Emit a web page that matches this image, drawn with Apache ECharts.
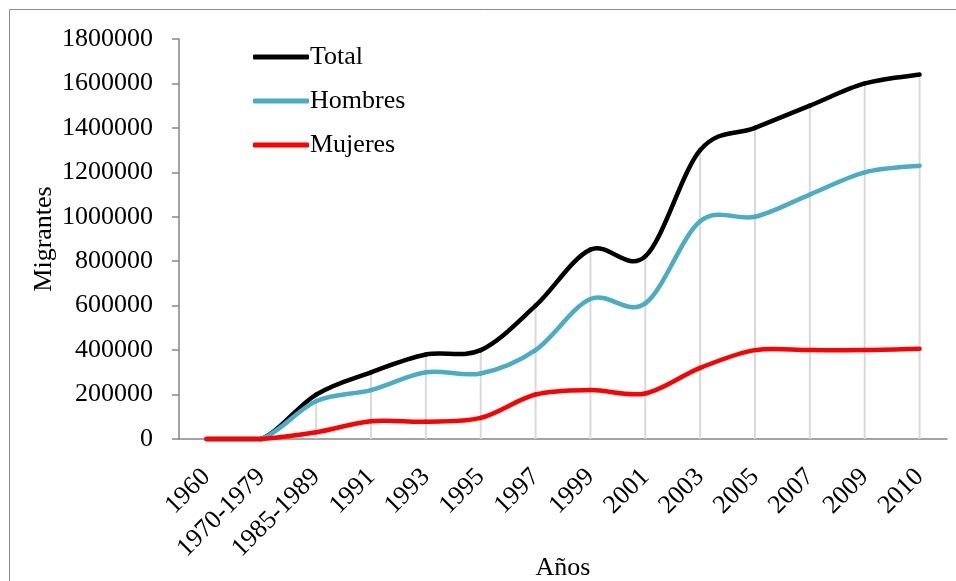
<!DOCTYPE html>
<html>
<head>
<meta charset="utf-8">
<script src="https://cdn.jsdelivr.net/npm/echarts@6/dist/echarts.min.js"></script>
<style>html,body{margin:0;padding:0;background:#fff;}#c{width:956px;height:581px;}</style>
</head>
<body>
<div id="c"></div>
<script>
var categories = ['1960','1970-1979','1985-1989','1991','1993','1995','1997','1999','2001','2003','2005','2007','2009','2010'];
var total   = [0, 0, 200000, 300000, 380000, 400000, 600000, 852000, 822000, 1300000, 1400000, 1500000, 1600000, 1640000];
var hombres = [0, 0, 170000, 220000, 300000, 295000, 400000, 630000, 610000, 980000, 1000000, 1100000, 1200000, 1230000];
var mujeres = [0, 0, 30000, 80000, 78000, 95000, 200000, 220000, 205000, 320000, 400000, 400000, 400000, 406000];
var seriesNames = ['Total','Hombres','Mujeres'];
var seriesColors = ['#000000', '#4bacc6', '#ff0000'];

var FONT = "'Liberation Serif','Times New Roman',serif";
var FS = 26;
var LW = 4.5;

// Excel-like smoothed line: each data item draws the Bezier segment from point i to i+1,
// with control points from the neighbouring points (Catmull-Rom), all via the chart's scales.
function smoothSeries(name, values, color, z) {
  return {
    name: name,
    type: 'custom',
    z: z,
    coordinateSystem: 'cartesian2d',
    encode: {x: 0, y: 1},
    itemStyle: {color: color},
    data: values.map(function (v, i) { return [i, v]; }),
    renderItem: function (params, api) {
      var i = params.dataIndex;
      var n = values.length;
      if (i >= n - 1) return null;
      var p = function (k) {
        k = Math.max(0, Math.min(n - 1, k));
        return api.coord([k, values[k]]);
      };
      var baseY = api.coord([0, 0])[1];
      var p0 = p(i - 1), p1 = p(i), p2 = p(i + 1), p3 = p(i + 2);
      var c1 = [p1[0] + (p2[0] - p0[0]) / 6, Math.min(baseY, p1[1] + (p2[1] - p0[1]) / 6)];
      var c2 = [p2[0] - (p3[0] - p1[0]) / 6, Math.min(baseY, p2[1] - (p3[1] - p1[1]) / 6)];
      var d = 'M' + p1[0] + ' ' + p1[1] + ' C' + c1[0] + ' ' + c1[1] + ' ' + c2[0] + ' ' + c2[1] + ' ' + p2[0] + ' ' + p2[1];
      return {
        type: 'path',
        shape: {pathData: d},
        style: {fill: null, stroke: color, lineWidth: LW, lineCap: 'round', lineJoin: 'round'}
      };
    }
  };
}

var chart = echarts.init(document.getElementById('c'));
chart.setOption({
  backgroundColor: '#fff',
  animation: false,
  textStyle: {fontFamily: FONT, color: '#000'},
  graphic: [{
    type: 'rect', silent: true, z: -10,
    shape: {x: 9.5, y: 9.5, width: 2000, height: 2000},
    style: {fill: 'none', stroke: '#8c8c8c', lineWidth: 1}
  }],
  grid: {left: 179, right: 9, top: 39, bottom: 142, containLabel: false, outerBoundsMode: 'none'},
  legend: {
    data: seriesNames,
    orient: 'vertical',
    left: 248, top: 39,
    itemWidth: 56, itemHeight: 5,
    itemGap: 18,
    icon: 'roundRect',
    textStyle: {fontFamily: FONT, fontSize: FS, color: '#000', padding: [0,0,0,-4]}
  },
  xAxis: {
    type: 'category',
    data: categories,
    boundaryGap: true,
    name: 'Años',
    nameLocation: 'middle',
    nameGap: 116,
    nameMoveOverlap: false,
    nameTextStyle: {fontFamily: FONT, fontSize: FS, color: '#000'},
    axisLine: {lineStyle: {color: '#868686', width: 1.5}},
    axisTick: {show: false},
    axisLabel: {rotate: 45, fontFamily: FONT, fontSize: FS, color: '#000', margin: 34, interval: 0},
    splitLine: {show: false}
  },
  yAxis: {
    type: 'value',
    min: 0, max: 1800000, interval: 200000,
    name: 'Migrantes',
    nameLocation: 'middle',
    nameRotate: 90,
    nameGap: 122,
    nameMoveOverlap: false,
    nameTextStyle: {fontFamily: FONT, fontSize: FS, color: '#000'},
    axisLine: {show: true, lineStyle: {color: '#868686', width: 1.5}},
    axisTick: {show: true, length: 7, lineStyle: {color: '#868686', width: 1.5}},
    axisLabel: {fontFamily: FONT, fontSize: FS, color: '#000', margin: 26, formatter: function (v) { return String(v); }},
    splitLine: {show: false}
  },
  series: [
    {
      name: 'drop', type: 'bar', data: total, barWidth: 2, z: 1,
      itemStyle: {color: '#d9d9d9'}, silent: true
    },
    smoothSeries(seriesNames[0], total, seriesColors[0], 3),
    smoothSeries(seriesNames[1], hombres, seriesColors[1], 4),
    smoothSeries(seriesNames[2], mujeres, seriesColors[2], 5)
  ]
});
</script>
</body>
</html>
